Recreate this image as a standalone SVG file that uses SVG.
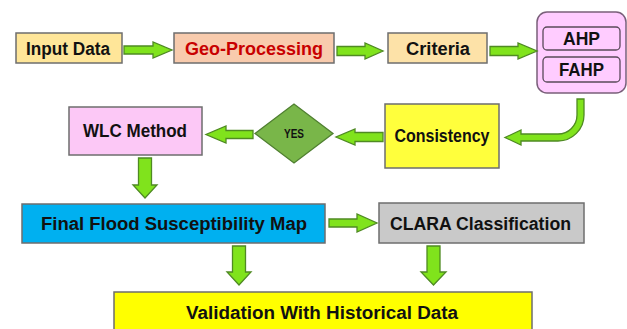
<svg xmlns="http://www.w3.org/2000/svg" width="627" height="329" viewBox="0 0 627 329">
<style>
.box{stroke:#6e6e6e;stroke-width:1.5}
.t{font-family:"Liberation Sans",Arial,sans-serif;font-weight:bold;font-size:18px;fill:#111;text-anchor:middle}
.arr{fill:#80e31c;stroke:#4f8a23;stroke-width:1.3;stroke-linejoin:miter}
</style>
<rect width="627" height="329" fill="#fff"/>
<g id="input-data"><rect class="box" x="16" y="33" width="106" height="30" fill="#ffe699"/><text class="t" x="68" y="55" textLength="84" lengthAdjust="spacingAndGlyphs">Input Data</text></g>
<g id="geo-processing"><rect class="box" x="174" y="33" width="160" height="30" fill="#f8cbad"/><text class="t" x="254" y="55" style="fill:#c80000" textLength="138" lengthAdjust="spacingAndGlyphs">Geo-Processing</text></g>
<g id="criteria"><rect class="box" x="388" y="33" width="99" height="30" fill="#fde2a8"/><text class="t" x="438" y="55" textLength="64" lengthAdjust="spacingAndGlyphs">Criteria</text></g>
<g id="ahp-group"><rect x="537" y="12" width="89" height="81" rx="10" fill="#ffccff" stroke="#7a5f7a" stroke-width="1.5"/>
<rect x="543" y="27" width="77" height="23" rx="4" fill="#ffccff" stroke="#5a4a5a" stroke-width="1.3"/><text class="t" x="581.5" y="45" textLength="37" lengthAdjust="spacingAndGlyphs">AHP</text>
<rect x="543" y="57" width="77" height="25" rx="4" fill="#ffccff" stroke="#5a4a5a" stroke-width="1.3"/><text class="t" x="581.5" y="76" textLength="45" lengthAdjust="spacingAndGlyphs">FAHP</text></g>
<g id="consistency"><rect class="box" x="385" y="104" width="114" height="64" fill="#ffff3c"/><text class="t" x="442" y="142" textLength="95" lengthAdjust="spacingAndGlyphs">Consistency</text></g>
<g id="yes"><polygon points="255,133.5 294,104 333,133.5 294,163" fill="#79b649" stroke="#4f7f30" stroke-width="1.3"/><text class="t" x="294" y="138" style="font-size:12px" textLength="20" lengthAdjust="spacingAndGlyphs">YES</text></g>
<g id="wlc-method"><rect class="box" x="69" y="107" width="133" height="48" fill="#fcc8f6"/><text class="t" x="135" y="137" textLength="104" lengthAdjust="spacingAndGlyphs">WLC Method</text></g>
<g id="final-map"><rect class="box" x="22" y="204" width="303" height="39" fill="#00b0f0"/><text class="t" x="174" y="230" textLength="266" lengthAdjust="spacingAndGlyphs">Final Flood Susceptibility Map</text></g>
<g id="clara"><rect class="box" x="379" y="203" width="205" height="40" fill="#c9c9c9"/><text class="t" x="480.5" y="230" textLength="181" lengthAdjust="spacingAndGlyphs">CLARA Classification</text></g>
<g id="validation"><rect class="box" x="114" y="292" width="418" height="45" fill="#ffff00"/><text class="t" x="322" y="319" textLength="272" lengthAdjust="spacingAndGlyphs">Validation With Historical Data</text></g>
<g id="connectors">
<polygon class="arr" points="124,46 153,46 153,42 172,50 153,58 153,54 124,54"/>
<polygon class="arr" points="337,46.5 365,46.5 365,43 383,51 365,59 365,55.5 337,55.5"/>
<polygon class="arr" points="490,46.5 518,46.5 518,43 537,51 518,59 518,55.5 490,55.5"/>
<path class="arr" d="M577,99 H584 V115 A26,26 0 0 1 558,141 H521 V145 L505,137.5 L521,130 V134 H558 A19,19 0 0 0 577,115 Z"/>
<polygon class="arr" points="383,132.5 355,132.5 355,129 336,137 355,145 355,141.5 383,141.5"/>
<polygon class="arr" points="253,130.5 226,130.5 226,126 206,134.5 226,143 226,138.5 253,138.5"/>
<polygon class="arr" points="138.5,158 151.5,158 151.5,185 157,185 145,198 133,185 138.5,185"/>
<polygon class="arr" points="329,219 357,219 357,214 377,223 357,232 357,227 329,227"/>
<polygon class="arr" points="232.5,246 245.5,246 245.5,272 251,272 239,285 227,272 232.5,272"/>
<polygon class="arr" points="427,246 440,246 440,272 446,272 433.5,285 421,272 427,272"/>
</g>
</svg>
